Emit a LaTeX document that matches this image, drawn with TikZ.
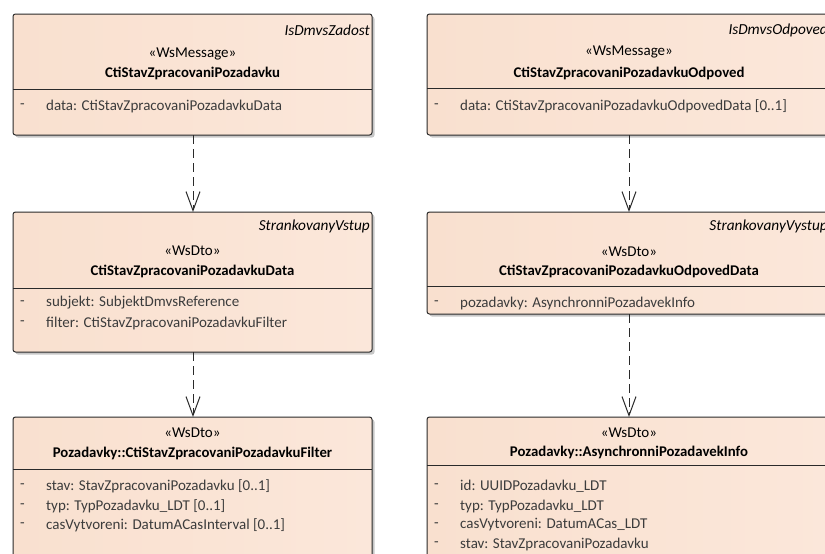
\documentclass[tikz,border=0pt]{standalone}
\usepackage{fontspec}
\setmainfont{Carlito}
\usetikzlibrary{arrows.meta,shadows}
\definecolor{peachA}{HTML}{F9E0CF}
\definecolor{peachB}{HTML}{FEF6F1}
\definecolor{peachC}{HTML}{FBE7DA}
\definecolor{edgecol}{HTML}{2A2A2A}
\definecolor{txtcol}{HTML}{3C3C3C}
\tikzset{
  umlbox/.style={draw=edgecol, line width=1pt, rounded corners=2.5pt, anchor=north west,
    left color=peachA, middle color=peachB, right color=peachC, shading angle=90,
    drop shadow={shadow xshift=2.5pt, shadow yshift=-2.5pt, opacity=0.22, fill=black},
    inner sep=0pt, outer sep=0pt},
  sep/.style={draw=edgecol, line width=1pt},
  txt/.style={font=\fontsize{15}{17}\selectfont, text=black, inner sep=0pt},
  attr/.style={txt, text=txtcol, anchor=west},
  tag/.style={txt, font=\fontsize{15.3}{17}\selectfont\itshape, anchor=east},
  nm/.style={txt, font=\fontsize{14.8}{16}\selectfont\bfseries},
  dep/.style={draw=edgecol, line width=1pt, dash pattern=on 9pt off 5pt,
    -{Straight Barb[length=19pt,width=14pt,line width=1pt]}}
}
\begin{document}
\begin{tikzpicture}[x=1pt,y=1pt]
\useasboundingbox (0,0) rectangle (825,-554);
\clip (0,0) rectangle (825,-554);
\fill[white] (0,0) rectangle (825,-554);
% ---- left column
\node[umlbox, minimum width=359pt, minimum height=121pt] (a) at (13,-14) {};
\draw[sep] (13,-89) -- (372,-89);
\node[tag] (atag) at (370,-30) {IsDmvsZadost};
\node[txt] (ast) at (192.5,-54) {«WsMessage»};
\node[nm] (anm) at (192.5,-73) {CtiStavZpracovaniPozadavku};
\node[attr] (ad1) at (20,-106) {-};
\node[attr] (aa1) at (46,-106) {data: CtiStavZpracovaniPozadavkuData};

\node[umlbox, minimum width=359pt, minimum height=140pt] (b) at (13,-212) {};
\draw[sep] (13,-288) -- (372,-288);
\node[tag] (btag) at (370,-226) {StrankovanyVstup};
\node[txt] (bst) at (192.5,-251) {«WsDto»};
\node[nm] (bnm) at (192.5,-271) {CtiStavZpracovaniPozadavkuData};
\node[attr] (bd1) at (20,-303) {-};
\node[attr] (ba1) at (46,-303) {subjekt: SubjektDmvsReference};
\node[attr] (bd2) at (20,-323) {-};
\node[attr] (ba2) at (46,-323) {filter: CtiStavZpracovaniPozadavkuFilter};

\node[umlbox, minimum width=359pt, minimum height=160pt] (c) at (13,-417) {};
\draw[sep] (13,-469) -- (372,-469);
\node[txt] (cst) at (192.5,-433) {«WsDto»};
\node[nm] (cnm) at (192.5,-453) {Pozadavky::CtiStavZpracovaniPozadavkuFilter};
\node[attr] (cd1) at (20,-486) {-};
\node[attr] (ca1) at (46,-486) {stav: StavZpracovaniPozadavku [0..1]};
\node[attr] (cd2) at (20,-506) {-};
\node[attr] (ca2) at (46,-506) {typ: TypPozadavku\_LDT [0..1]};
\node[attr] (cd3) at (20,-525) {-};
\node[attr] (ca3) at (46,-525) {casVytvoreni: DatumACasInterval [0..1]};

% ---- right column
\node[umlbox, minimum width=404pt, minimum height=121pt] (d) at (427,-14) {};
\draw[sep] (427,-88) -- (831,-88);
\node[tag] (dtag) at (828,-30) {IsDmvsOdpoved};
\node[txt] (dst) at (629,-52) {«WsMessage»};
\node[nm] (dnm) at (629,-73) {CtiStavZpracovaniPozadavkuOdpoved};
\node[attr] (dd1) at (434,-106) {-};
\node[attr] (da1) at (460,-106) {data: CtiStavZpracovaniPozadavkuOdpovedData [0..1]};

\node[umlbox, minimum width=404pt, minimum height=102pt] (e) at (427,-212) {};
\draw[sep] (427,-286) -- (831,-286);
\node[tag] (etag) at (828,-226) {StrankovanyVystup};
\node[txt] (est) at (629,-252) {«WsDto»};
\node[nm] (enm) at (629,-271) {CtiStavZpracovaniPozadavkuOdpovedData};
\node[attr] (ed1) at (434,-303) {-};
\node[attr] (ea1) at (460,-303) {pozadavky: AsynchronniPozadavekInfo};

\node[umlbox, minimum width=404pt, minimum height=160pt] (f) at (427,-417) {};
\draw[sep] (427,-465) -- (831,-465);
\node[txt] (fst) at (629,-433) {«WsDto»};
\node[nm] (fnm) at (629,-452) {Pozadavky::AsynchronniPozadavekInfo};
\node[attr] (fd1) at (434,-486) {-};
\node[attr] (fa1) at (460,-486) {id: UUIDPozadavku\_LDT};
\node[attr] (fd2) at (434,-506) {-};
\node[attr] (fa2) at (460,-506) {typ: TypPozadavku\_LDT};
\node[attr] (fd3) at (434,-525) {-};
\node[attr] (fa3) at (460,-525) {casVytvoreni: DatumACas\_LDT};
\node[attr] (fd4) at (434,-544) {-};
\node[attr] (fa4) at (460,-544) {stav: StavZpracovaniPozadavku};

% ---- connectors
\draw[dep] ([xshift=0.5pt]a.south) -- ([xshift=0.5pt]b.north);
\draw[dep] ([xshift=0.5pt]b.south) -- ([xshift=0.5pt]c.north);
\draw[dep] (d.south) -- (e.north);
\draw[dep] (e.south) -- (f.north);
\end{tikzpicture}
\end{document}
